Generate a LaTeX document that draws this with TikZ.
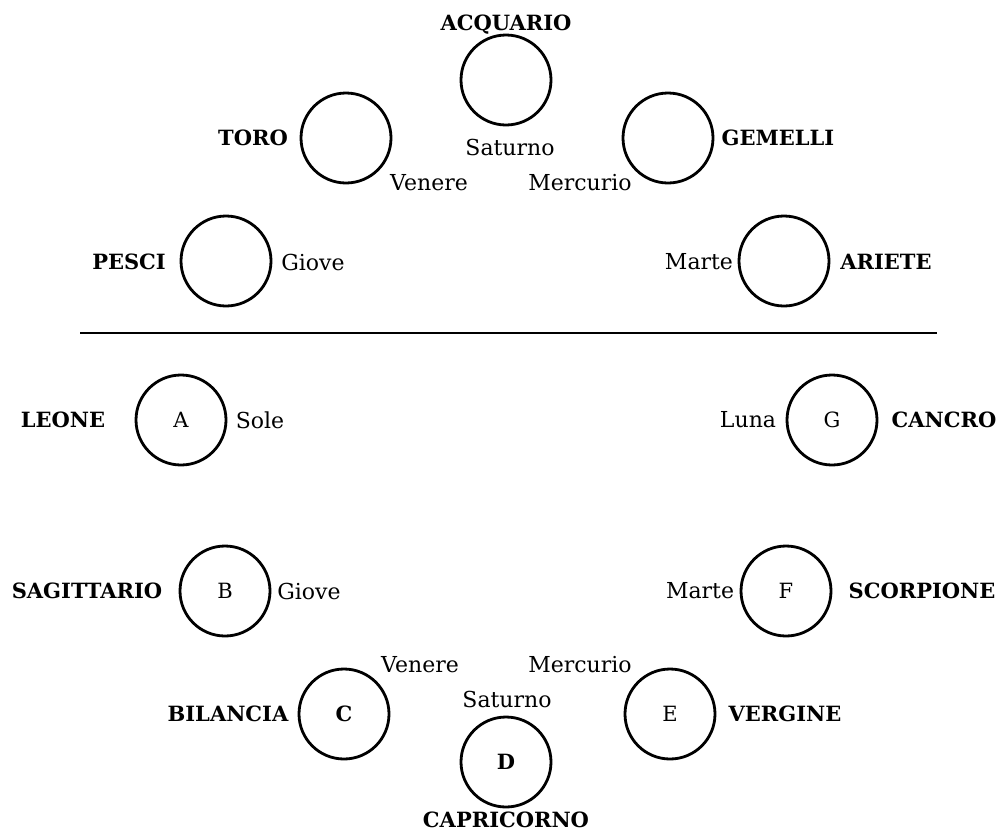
\documentclass[tikz,border=0pt]{standalone}
\usepackage{fontspec}
\setmainfont{DejaVu Serif}
\begin{document}
\begin{tikzpicture}[x=1pt,y=-1pt,
  sign/.style={circle,draw,line width=2.8pt,minimum size=90pt,inner sep=0pt,font=\fontsize{21}{24}\selectfont},
  zname/.style={font=\fontsize{21}{24}\selectfont\bfseries,inner sep=0pt},
  planet/.style={font=\fontsize{22}{26}\selectfont,inner sep=0pt}]
\useasboundingbox (0,0) rectangle (998,836);
% top
\node[sign] (aq) at (506,80) {};
\node[zname] (aqn) at (506,25) {ACQUARIO};
\node[planet] (aqp) at (510,147) {Saturno};
\node[sign] (to) at (346,138) {};
\node[zname] (ton) at (253,138) {TORO};
\node[planet] (top) at (429,183) {Venere};
\node[sign] (ge) at (668,138) {};
\node[zname] (gen) at (778,138) {GEMELLI};
\node[planet] (gep) at (580,183) {Mercurio};
\node[sign] (pe) at (226,261) {};
\node[zname] (pen) at (129,262) {PESCI};
\node[planet] (pep) at (313,262) {Giove};
\node[sign] (ar) at (784,261) {};
\node[planet] (arp) at (699,262) {Marte};
\node[zname] (arn) at (886,262) {ARIETE};
% divider
\coordinate (l1) at (80,333);
\coordinate (l2) at (937,333);
\draw[line width=2.8pt] (l1) -- (l2);
% bottom
\node[sign] (le) at (181,420) {A};
\node[zname] (len) at (63,420) {LEONE};
\node[planet] (lep) at (260,420) {Sole};
\node[sign] (ca) at (832,420) {G};
\node[planet] (cap) at (748,420) {Luna};
\node[zname] (can) at (944,420) {CANCRO};
\node[sign] (sa) at (225,591) {B};
\node[zname] (san) at (87,591) {SAGITTARIO};
\node[planet] (sap) at (309,591) {Giove};
\node[sign] (sc) at (786,591) {F};
\node[planet] (scp) at (700,591) {Marte};
\node[zname] (scn) at (922,591) {SCORPIONE};
\node[sign] (bi) at (344,714) {\bfseries C};
\node[zname] (bin) at (228,714) {BILANCIA};
\node[planet] (bip) at (420,665) {Venere};
\node[sign] (ve) at (670,714) {E};
\node[zname] (ven) at (785,714) {VERGINE};
\node[planet] (vep) at (580,665) {Mercurio};
\node[sign] (cp) at (506,762) {\bfseries D};
\node[planet] (cpp) at (507,699) {Saturno};
\node[zname] (cpn) at (506,820) {CAPRICORNO};
\end{tikzpicture}
\end{document}
